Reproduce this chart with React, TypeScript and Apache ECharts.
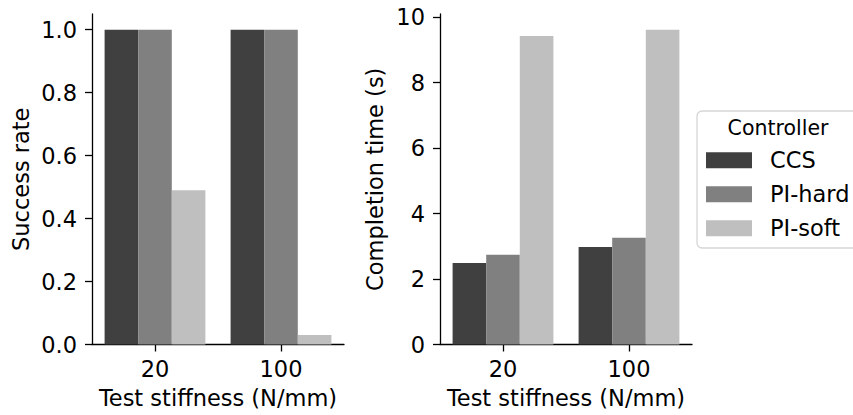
import React, { useEffect, useRef } from "react";
import * as echarts from "echarts";

const categories = ["20", "100"];
const controllers = ["CCS", "PI-hard", "PI-soft"];
const colors = ["#404040", "#808080", "#bfbfbf"];

const successCCS = [1.0, 1.0];
const successPIhard = [1.0, 1.0];
const successPIsoft = [0.49, 0.03];

const timeCCS = [2.49, 2.98];
const timePIhard = [2.74, 3.26];
const timePIsoft = [9.43, 9.62];

const successTicks = [0, 0.2, 0.4, 0.6, 0.8, 1.0];
const timeTicks = [0, 2, 4, 6, 8, 10];

const FONT = "DejaVu Sans";
const FS = 22.5;

export default function App() {
  const ref = useRef<HTMLDivElement>(null);
  useEffect(() => {
    if (!ref.current) return;
    const chart = echarts.init(ref.current, undefined, { renderer: "svg" });
    const axisLine = { show: true, lineStyle: { color: "#000", width: 1.3 } };
    const axisTick = { show: true, length: 7, lineStyle: { color: "#000", width: 1.3 } };
    const labelStyle = { color: "#000", fontSize: FS, fontFamily: FONT };
    const nameStyle = { color: "#000", fontSize: FS, fontFamily: FONT };
    const xAxisCommon = {
      type: "category" as const,
      data: categories,
      boundaryGap: true,
      axisLine,
      axisTick: { ...axisTick, alignWithLabel: true },
      axisLabel: { ...labelStyle, margin: 13 },
      name: "Test stiffness (N/mm)",
      nameLocation: "middle" as const,
      nameGap: 42,
      nameTextStyle: nameStyle,
      splitLine: { show: false },
    };
    const seriesSets = [
      [successCCS, successPIhard, successPIsoft],
      [timeCCS, timePIhard, timePIsoft],
    ];
    const series: any[] = [];
    seriesSets.forEach((set, gi) => {
      set.forEach((vals, si) => {
        series.push({
          type: "bar",
          name: controllers[si],
          xAxisIndex: gi,
          yAxisIndex: gi,
          data: vals,
          barGap: "0%",
          barCategoryGap: "20%",
          itemStyle: { color: colors[si] },
        });
      });
    });
    chart.setOption({
      animation: false,
      textStyle: { fontFamily: FONT },
      grid: [
        { left: 92, top: 14, width: 252, height: 330.5, containLabel: false },
        { left: 440, top: 14, width: 252, height: 330.5, containLabel: false },
      ],
      xAxis: [
        { ...xAxisCommon, gridIndex: 0 },
        { ...xAxisCommon, gridIndex: 1 },
      ],
      yAxis: [
        {
          type: "value",
          gridIndex: 0,
          min: 0,
          max: 1.05,
          axisLine,
          axisTick: { ...axisTick, customValues: successTicks },
          axisLabel: {
            ...labelStyle,
            margin: 15,
            customValues: successTicks,
            formatter: (v: number) => v.toFixed(1),
          },
          splitLine: { show: false },
          name: "Success rate",
          nameLocation: "middle",
          nameGap: 60,
          nameTextStyle: nameStyle,
        },
        {
          type: "value",
          gridIndex: 1,
          min: 0,
          max: 10.1,
          axisLine,
          axisTick: { ...axisTick, customValues: timeTicks },
          axisLabel: {
            ...labelStyle,
            margin: 15,
            customValues: timeTicks,
            formatter: (v: number) => String(Math.round(v)),
          },
          splitLine: { show: false },
          name: "Completion time (s)",
          nameLocation: "middle",
          nameGap: 54,
          nameTextStyle: nameStyle,
        },
      ],
      legend: {
        data: controllers,
        orient: "vertical",
        left: 706,
        top: 148.75,
        padding: 0,
        itemWidth: 46,
        itemHeight: 16,
        itemGap: 11,
        icon: "rect",
        textStyle: {
          color: "#000",
          fontSize: FS,
          fontFamily: FONT,
          lineHeight: 22.5,
          padding: [0, 0, 0, 13],
        },
      },
      graphic: [
        {
          type: "rect",
          z: -1,
          shape: { x: 697, y: 111, width: 180, height: 137, r: 5 },
          style: { fill: "#fff", stroke: "#d6d6d6", lineWidth: 1.3 },
          silent: true,
        },
        {
          type: "text",
          x: 778,
          y: 128,
          style: {
            text: "Controller",
            fill: "#000",
            fontSize: 20.5,
            fontFamily: FONT,
            textAlign: "center",
            textVerticalAlign: "middle",
          },
        },
      ],
      series,
    });
    return () => chart.dispose();
  }, []);
  return (
    <div
      ref={ref}
      style={{ position: "fixed", left: 0, top: 0, width: 853, height: 415, background: "#fff" }}
    />
  );
}
